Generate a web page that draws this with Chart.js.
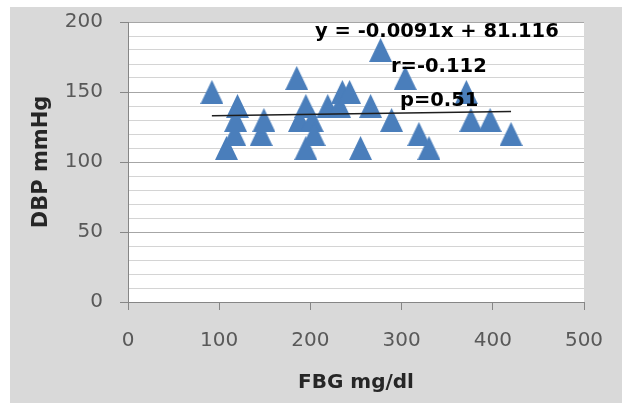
<!DOCTYPE html>
<html>
<head>
<meta charset="utf-8">
<script src="https://cdn.jsdelivr.net/npm/chart.js@4.4.1/dist/chart.umd.min.js"></script>
<style>
  html, body { margin: 0; padding: 0; background: #fff; }
  canvas { display: block; }
</style>
</head>
<body>
<canvas id="chart" width="622" height="405"></canvas>
<script>
// values
const fbg = [92, 108, 117, 118, 120, 146, 149, 185, 188, 195, 195, 202, 204, 219,
             232, 235, 243, 255, 266, 277, 289, 304, 319, 330, 371, 376, 397, 420];
const dbp = [150, 110, 120, 130, 140, 120, 130, 160, 130, 140, 110, 130, 120, 140,
             140, 150, 150, 110, 140, 180, 130, 160, 120, 110, 150, 130, 130, 120];
const trendX = [92, 420];
const trendY = [133.1, 136.0];
const notes = ["y = -0.0091x + 81.116", "r=-0.112", "p=0.51"];

const FONT = "'DejaVu Sans', sans-serif";
const BLUE = "#4a7ebb";

// Excel-like triangle marker
const tri = document.createElement("canvas");
tri.width = 23; tri.height = 24;
{
  const c = tri.getContext("2d");
  c.fillStyle = BLUE;
  c.beginPath(); c.moveTo(11.5, 0); c.lineTo(23, 24); c.lineTo(0, 24); c.closePath(); c.fill();
}

const frame = {
  id: "frame",
  beforeDraw(ch) {
    const { ctx, chartArea: a } = ch;
    ctx.save();
    ctx.fillStyle = "#fff"; ctx.fillRect(0, 0, ch.width, ch.height);
    ctx.fillStyle = "#d9d9d9"; ctx.fillRect(10, 7, ch.width - 10, 396);
    ctx.fillStyle = "#fff"; ctx.fillRect(a.left, a.top, a.right - a.left, a.bottom - a.top);
    ctx.restore();
  },
  afterDatasetsDraw(ch) {
    const ctx = ch.ctx;
    ctx.save();
    ctx.fillStyle = "#000";
    ctx.font = "bold 19.5px " + FONT;
    ctx.textBaseline = "alphabetic";
    ctx.fillText(notes[0], 315, 37);
    ctx.fillText(notes[1], 391, 72);
    ctx.fillText(notes[2], 400, 106);
    ctx.restore();
  }
};

new Chart(document.getElementById("chart"), {
  type: "scatter",
  data: {
    datasets: [
      { type: "line", data: trendX.map((x, i) => ({ x, y: trendY[i] })), borderColor: "#1e1e1e",
        borderWidth: 1.5, pointRadius: 0, fill: false, order: 0 },
      { data: fbg.map((x, i) => ({ x, y: dbp[i] })), pointStyle: tri, pointRadius: 12,
        backgroundColor: BLUE, borderColor: BLUE, order: 1 }
    ]
  },
  options: {
    responsive: false, animation: false,
    layout: { padding: { left: 10, right: 38, top: 22, bottom: 0 } },
    plugins: { legend: { display: false }, tooltip: { enabled: false } },
    scales: {
      x: {
        min: 0, max: 500,
        afterFit: s => { s.height = 103; s.paddingLeft = 0; s.paddingRight = 0; },
        ticks: { stepSize: 100, color: "#595959", font: { family: FONT, size: 20 }, padding: 19 },
        grid: { drawOnChartArea: false, tickLength: 8, color: "#868686" },
        border: { color: "#868686" },
        title: { display: true, text: "FBG mg/dl", color: "#262626",
                 font: { family: FONT, size: 20, weight: "bold" }, padding: { top: 0, bottom: 10 } }
      },
      y: {
        min: 0, max: 200,
        afterFit: s => { s.width = 118; s.paddingTop = 0; s.paddingBottom = 0; },
        ticks: { stepSize: 10, autoSkip: false, color: "#595959", font: { family: FONT, size: 20 }, padding: 17,
                 callback: v => v % 50 === 0 ? v : "" },
        grid: { tickLength: 8,
                color: c => c.tick && c.tick.value % 50 === 0 ? "#a6a6a6" : "#d4d4d4",
                tickColor: c => c.tick && c.tick.value % 50 === 0 ? "#868686" : "rgba(0,0,0,0)" },
        border: { color: "#868686" },
        title: { display: true, text: "DBP mmHg", color: "#262626",
                 font: { family: FONT, size: 21, weight: "bold" }, padding: { top: 19, bottom: 0 } }
      }
    }
  },
  plugins: [frame]
});
</script>
</body>
</html>
